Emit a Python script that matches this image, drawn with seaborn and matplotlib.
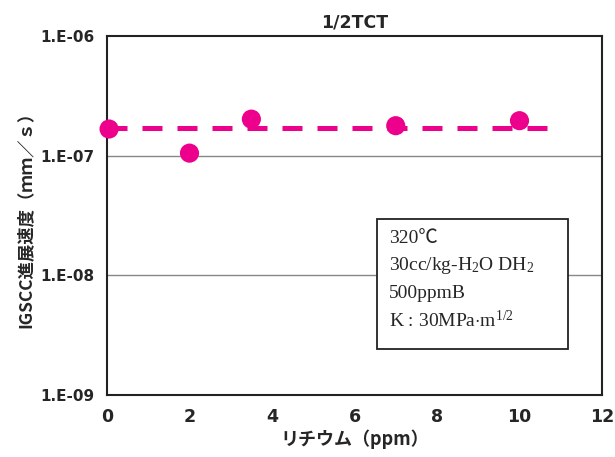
import matplotlib
matplotlib.use("Agg")
import matplotlib.pyplot as plt
import seaborn as sns
import pandas as pd

# data
lithium_ppm = [0.05, 2.0, 3.5, 7.0, 10.0]
growth_rate = [1.67e-7, 1.05e-7, 2.02e-7, 1.78e-7, 1.96e-7]
trend_x = [0.0, 11.0]
trend_y = [1.70e-7, 1.70e-7]
x_ticks = [0, 2, 4, 6, 8, 10, 12]
y_ticks = [1e-9, 1e-8, 1e-7, 1e-6]
y_tick_labels = ["1.E-09", "1.E-08", "1.E-07", "1.E-06"]
title = "1/2TCT"
x_label = "リチウム（ppm）"
y_label = "IGSCC進展速度（ｍｍ／ｓ）"
note_lines = ["320℃", "30cc/kg-H$_2$O DH$_2$", "500ppmB", "K : 30MPa$\\cdot$m$^{1/2}$"]

sns.set_theme(style="white")
plt.rcParams['font.family'] = ['Noto Sans CJK JP', 'DejaVu Sans']
plt.rcParams['mathtext.fontset'] = 'custom'
plt.rcParams['mathtext.rm'] = 'Liberation Serif'
plt.rcParams['mathtext.it'] = 'Liberation Serif'

color = "#EC008C"
fig = plt.figure(figsize=(6.15, 4.57), dpi=100)
ax = fig.add_axes([107/615, 1-395/457, (602-107)/615, (395-36)/457])

df = pd.DataFrame({"x": lithium_ppm, "y": growth_rate})
tdf = pd.DataFrame({"x": trend_x, "y": trend_y})
sns.lineplot(data=tdf, x="x", y="y", ax=ax, color=color, lw=3.6, zorder=3)
ax.lines[-1].set_dashes([4, 3])
sns.scatterplot(data=df, x="x", y="y", ax=ax, color=color, s=190, edgecolor="none", zorder=4, clip_on=False)

ax.set_yscale("log")
ax.set_ylim(1e-9, 1e-6)
ax.set_xlim(0, 12)
ax.set_yticks(y_ticks)
ax.set_yticklabels(y_tick_labels)
ax.minorticks_off()
ax.yaxis.set_minor_locator(matplotlib.ticker.NullLocator())
ax.set_xticks(x_ticks)
ax.tick_params(axis="x", direction="in", length=5, width=1, color="#222222", labelsize=12.5, pad=9)
ax.tick_params(axis="y", length=0, labelsize=11, pad=9)
for lab in ax.get_xticklabels() + ax.get_yticklabels():
    lab.set_fontweight("bold")
    lab.set_family("DejaVu Sans")
for y in [1e-8, 1e-7]:
    ax.axhline(y, color="#888888", lw=1, zorder=1)
for s in ax.spines.values():
    s.set_color("#222222")
    s.set_linewidth(1.5)

ax.set_title(title, fontsize=12.5, fontweight="bold", pad=6, family="DejaVu Sans")
ax.set_xlabel(x_label, fontsize=13, fontweight="bold", labelpad=3)
ax.set_ylabel(y_label, fontsize=12.5, fontweight="bold", labelpad=4)

# note box
bx0, by0 = (377-107)/495, (395-349)/359
bw, bh = (568-377)/495, (349-219)/359
rect = plt.Rectangle((bx0, by0), bw, bh, transform=ax.transAxes, facecolor="white",
                     edgecolor="#222222", lw=1.3, zorder=5)
ax.add_patch(rect)
ys = [238, 266, 293, 321]
for t, yy in zip(note_lines, ys):
    ax.text((389-107)/495, (395-yy)/359, t, transform=ax.transAxes, fontsize=14,
            family=['Liberation Serif', 'Noto Sans CJK JP'], va="center", ha="left", zorder=6)

fig.savefig("out.png", dpi=100)
